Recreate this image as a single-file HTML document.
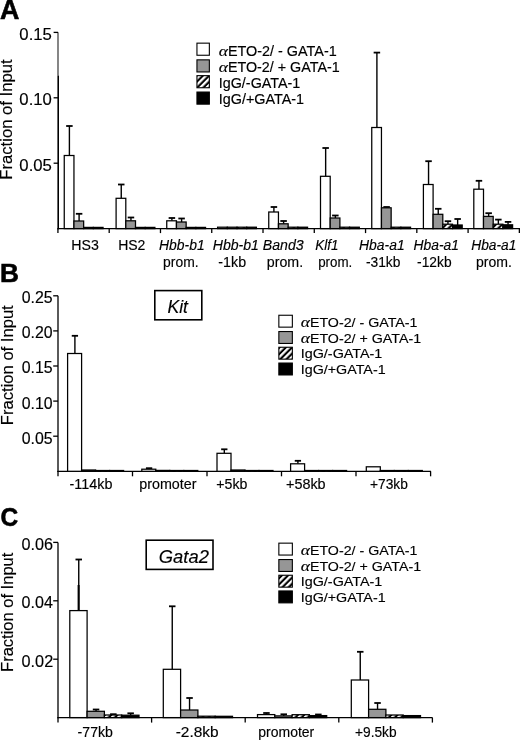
<!DOCTYPE html>
<html><head><meta charset="utf-8"><style>
html,body{margin:0;padding:0;background:#fff;}
body{width:520px;height:740px;overflow:hidden;}
svg{display:block;will-change:transform;}
text{font-family:"Liberation Sans", sans-serif;}
</style></head><body>
<svg width="520" height="740" viewBox="0 0 520 740">
<defs>
<pattern id="hatch" patternUnits="userSpaceOnUse" width="4.4" height="4.4" patternTransform="rotate(45)">
<rect width="4.4" height="4.4" fill="#000"/><rect width="2.3" height="4.4" fill="#fff"/>
</pattern>
</defs>
<rect width="520" height="740" fill="#fff"/>
<text x="-0.07" y="18.70" font-size="27" textLength="19.37" lengthAdjust="spacingAndGlyphs" style="font-family:'Liberation Sans',sans-serif;font-weight:bold;" fill="#000" stroke="#000" stroke-width="0.6">A</text>
<text transform="translate(12.0,0) rotate(-90)" x="-179.66" y="0" font-size="16" textLength="120.18" lengthAdjust="spacingAndGlyphs" style="font-family:'Liberation Sans',sans-serif;" stroke="#000" stroke-width="0.15">Fraction of Input</text>
<line x1="58.00" y1="32.30" x2="58.00" y2="75.60" stroke="#444" stroke-width="1.3"/>
<line x1="58.20" y1="75.60" x2="58.20" y2="229.20" stroke="#000" stroke-width="1.6"/>
<line x1="53.60" y1="32.40" x2="58.00" y2="32.40" stroke="#000" stroke-width="1.3"/>
<text x="19.35" y="39.90" font-size="16.5" textLength="32.56" lengthAdjust="spacingAndGlyphs" style="font-family:'Liberation Sans',sans-serif;" fill="#000" stroke="#000" stroke-width="0.15">0.15</text>
<line x1="53.60" y1="97.80" x2="58.00" y2="97.80" stroke="#000" stroke-width="1.3"/>
<text x="19.35" y="105.30" font-size="16.5" textLength="32.51" lengthAdjust="spacingAndGlyphs" style="font-family:'Liberation Sans',sans-serif;" fill="#000" stroke="#000" stroke-width="0.15">0.10</text>
<line x1="53.60" y1="163.20" x2="58.00" y2="163.20" stroke="#000" stroke-width="1.3"/>
<text x="19.35" y="170.70" font-size="16.5" textLength="32.56" lengthAdjust="spacingAndGlyphs" style="font-family:'Liberation Sans',sans-serif;" fill="#000" stroke="#000" stroke-width="0.15">0.05</text>
<line x1="57.40" y1="228.60" x2="520.00" y2="228.60" stroke="#000" stroke-width="1.3"/>
<line x1="57.93" y1="228.60" x2="57.93" y2="233.10" stroke="#000" stroke-width="1.3"/>
<line x1="109.20" y1="228.60" x2="109.20" y2="233.10" stroke="#000" stroke-width="1.3"/>
<line x1="160.47" y1="228.60" x2="160.47" y2="233.10" stroke="#000" stroke-width="1.3"/>
<line x1="211.74" y1="228.60" x2="211.74" y2="233.10" stroke="#000" stroke-width="1.3"/>
<line x1="263.01" y1="228.60" x2="263.01" y2="233.10" stroke="#000" stroke-width="1.3"/>
<line x1="314.28" y1="228.60" x2="314.28" y2="233.10" stroke="#000" stroke-width="1.3"/>
<line x1="365.55" y1="228.60" x2="365.55" y2="233.10" stroke="#000" stroke-width="1.3"/>
<line x1="416.82" y1="228.60" x2="416.82" y2="233.10" stroke="#000" stroke-width="1.3"/>
<line x1="468.09" y1="228.60" x2="468.09" y2="233.10" stroke="#000" stroke-width="1.3"/>
<line x1="519.36" y1="228.60" x2="519.36" y2="233.10" stroke="#000" stroke-width="1.3"/>
<line x1="69.40" y1="155.50" x2="69.40" y2="126.00" stroke="#000" stroke-width="1.4"/>
<line x1="66.15" y1="126.00" x2="72.65" y2="126.00" stroke="#000" stroke-width="1.8"/>
<rect x="64.25" y="155.50" width="9.70" height="73.10" fill="#fff" stroke="#000" stroke-width="1.25"/>
<line x1="79.10" y1="221.00" x2="79.10" y2="213.80" stroke="#000" stroke-width="1.4"/>
<line x1="75.85" y1="213.80" x2="82.35" y2="213.80" stroke="#000" stroke-width="1.8"/>
<rect x="73.95" y="221.00" width="9.70" height="7.60" fill="#969696" stroke="#000" stroke-width="1.25"/>
<rect x="83.65" y="227.40" width="9.70" height="1.20" fill="url(#hatch)" stroke="#000" stroke-width="1.25"/>
<rect x="93.35" y="227.40" width="9.70" height="1.20" fill="#000" stroke="#000" stroke-width="1.25"/>
<line x1="121.25" y1="198.30" x2="121.25" y2="184.50" stroke="#000" stroke-width="1.4"/>
<line x1="118.00" y1="184.50" x2="124.50" y2="184.50" stroke="#000" stroke-width="1.8"/>
<rect x="116.10" y="198.30" width="9.70" height="30.30" fill="#fff" stroke="#000" stroke-width="1.25"/>
<line x1="130.95" y1="220.80" x2="130.95" y2="217.50" stroke="#000" stroke-width="1.4"/>
<line x1="127.70" y1="217.50" x2="134.20" y2="217.50" stroke="#000" stroke-width="1.8"/>
<rect x="125.80" y="220.80" width="9.70" height="7.80" fill="#969696" stroke="#000" stroke-width="1.25"/>
<rect x="135.50" y="227.40" width="9.70" height="1.20" fill="url(#hatch)" stroke="#000" stroke-width="1.25"/>
<rect x="145.20" y="227.40" width="9.70" height="1.20" fill="#000" stroke="#000" stroke-width="1.25"/>
<line x1="171.90" y1="220.80" x2="171.90" y2="218.00" stroke="#000" stroke-width="1.4"/>
<line x1="168.65" y1="218.00" x2="175.15" y2="218.00" stroke="#000" stroke-width="1.8"/>
<rect x="166.75" y="220.80" width="9.70" height="7.80" fill="#fff" stroke="#000" stroke-width="1.25"/>
<line x1="181.60" y1="222.00" x2="181.60" y2="218.50" stroke="#000" stroke-width="1.4"/>
<line x1="178.35" y1="218.50" x2="184.85" y2="218.50" stroke="#000" stroke-width="1.8"/>
<rect x="176.45" y="222.00" width="9.70" height="6.60" fill="#969696" stroke="#000" stroke-width="1.25"/>
<rect x="186.15" y="227.40" width="9.70" height="1.20" fill="url(#hatch)" stroke="#000" stroke-width="1.25"/>
<rect x="195.85" y="227.40" width="9.70" height="1.20" fill="#000" stroke="#000" stroke-width="1.25"/>
<rect x="217.60" y="227.20" width="9.70" height="1.40" fill="#fff" stroke="#000" stroke-width="1.25"/>
<rect x="227.30" y="227.20" width="9.70" height="1.40" fill="#969696" stroke="#000" stroke-width="1.25"/>
<rect x="237.00" y="227.20" width="9.70" height="1.40" fill="url(#hatch)" stroke="#000" stroke-width="1.25"/>
<rect x="246.70" y="227.20" width="9.70" height="1.40" fill="#000" stroke="#000" stroke-width="1.25"/>
<line x1="273.90" y1="212.00" x2="273.90" y2="207.00" stroke="#000" stroke-width="1.4"/>
<line x1="270.65" y1="207.00" x2="277.15" y2="207.00" stroke="#000" stroke-width="1.8"/>
<rect x="268.75" y="212.00" width="9.70" height="16.60" fill="#fff" stroke="#000" stroke-width="1.25"/>
<line x1="283.60" y1="223.80" x2="283.60" y2="221.00" stroke="#000" stroke-width="1.4"/>
<line x1="280.35" y1="221.00" x2="286.85" y2="221.00" stroke="#000" stroke-width="1.8"/>
<rect x="278.45" y="223.80" width="9.70" height="4.80" fill="#969696" stroke="#000" stroke-width="1.25"/>
<rect x="288.15" y="227.20" width="9.70" height="1.40" fill="url(#hatch)" stroke="#000" stroke-width="1.25"/>
<rect x="297.85" y="227.20" width="9.70" height="1.40" fill="#000" stroke="#000" stroke-width="1.25"/>
<line x1="325.65" y1="176.30" x2="325.65" y2="148.00" stroke="#000" stroke-width="1.4"/>
<line x1="322.40" y1="148.00" x2="328.90" y2="148.00" stroke="#000" stroke-width="1.8"/>
<rect x="320.50" y="176.30" width="9.70" height="52.30" fill="#fff" stroke="#000" stroke-width="1.25"/>
<line x1="335.35" y1="218.00" x2="335.35" y2="215.50" stroke="#000" stroke-width="1.4"/>
<line x1="332.10" y1="215.50" x2="338.60" y2="215.50" stroke="#000" stroke-width="1.8"/>
<rect x="330.20" y="218.00" width="9.70" height="10.60" fill="#969696" stroke="#000" stroke-width="1.25"/>
<rect x="339.90" y="227.20" width="9.70" height="1.40" fill="url(#hatch)" stroke="#000" stroke-width="1.25"/>
<rect x="349.60" y="227.20" width="9.70" height="1.40" fill="#000" stroke="#000" stroke-width="1.25"/>
<line x1="376.90" y1="127.50" x2="376.90" y2="52.60" stroke="#000" stroke-width="1.4"/>
<line x1="373.65" y1="52.60" x2="380.15" y2="52.60" stroke="#000" stroke-width="1.8"/>
<rect x="371.75" y="127.50" width="9.70" height="101.10" fill="#fff" stroke="#000" stroke-width="1.25"/>
<line x1="386.60" y1="207.80" x2="386.60" y2="207.00" stroke="#000" stroke-width="1.4"/>
<line x1="383.35" y1="207.00" x2="389.85" y2="207.00" stroke="#000" stroke-width="1.8"/>
<rect x="381.45" y="207.80" width="9.70" height="20.80" fill="#969696" stroke="#000" stroke-width="1.25"/>
<rect x="391.15" y="227.20" width="9.70" height="1.40" fill="url(#hatch)" stroke="#000" stroke-width="1.25"/>
<rect x="400.85" y="227.20" width="9.70" height="1.40" fill="#000" stroke="#000" stroke-width="1.25"/>
<line x1="428.55" y1="184.50" x2="428.55" y2="161.20" stroke="#000" stroke-width="1.4"/>
<line x1="425.30" y1="161.20" x2="431.80" y2="161.20" stroke="#000" stroke-width="1.8"/>
<rect x="423.40" y="184.50" width="9.70" height="44.10" fill="#fff" stroke="#000" stroke-width="1.25"/>
<line x1="438.25" y1="214.30" x2="438.25" y2="208.80" stroke="#000" stroke-width="1.4"/>
<line x1="435.00" y1="208.80" x2="441.50" y2="208.80" stroke="#000" stroke-width="1.8"/>
<rect x="433.10" y="214.30" width="9.70" height="14.30" fill="#969696" stroke="#000" stroke-width="1.25"/>
<line x1="447.95" y1="224.20" x2="447.95" y2="221.20" stroke="#000" stroke-width="1.4"/>
<line x1="444.70" y1="221.20" x2="451.20" y2="221.20" stroke="#000" stroke-width="1.8"/>
<rect x="442.80" y="224.20" width="9.70" height="4.40" fill="url(#hatch)" stroke="#000" stroke-width="1.25"/>
<line x1="457.65" y1="225.00" x2="457.65" y2="219.00" stroke="#000" stroke-width="1.4"/>
<line x1="454.40" y1="219.00" x2="460.90" y2="219.00" stroke="#000" stroke-width="1.8"/>
<rect x="452.50" y="225.00" width="9.70" height="3.60" fill="#000" stroke="#000" stroke-width="1.25"/>
<line x1="478.95" y1="189.20" x2="478.95" y2="180.80" stroke="#000" stroke-width="1.4"/>
<line x1="475.70" y1="180.80" x2="482.20" y2="180.80" stroke="#000" stroke-width="1.8"/>
<rect x="473.80" y="189.20" width="9.70" height="39.40" fill="#fff" stroke="#000" stroke-width="1.25"/>
<line x1="488.65" y1="216.40" x2="488.65" y2="213.20" stroke="#000" stroke-width="1.4"/>
<line x1="485.40" y1="213.20" x2="491.90" y2="213.20" stroke="#000" stroke-width="1.8"/>
<rect x="483.50" y="216.40" width="9.70" height="12.20" fill="#969696" stroke="#000" stroke-width="1.25"/>
<line x1="498.35" y1="224.20" x2="498.35" y2="219.60" stroke="#000" stroke-width="1.4"/>
<line x1="495.10" y1="219.60" x2="501.60" y2="219.60" stroke="#000" stroke-width="1.8"/>
<rect x="493.20" y="224.20" width="9.70" height="4.40" fill="url(#hatch)" stroke="#000" stroke-width="1.25"/>
<line x1="508.05" y1="224.80" x2="508.05" y2="221.90" stroke="#000" stroke-width="1.4"/>
<line x1="504.80" y1="221.90" x2="511.30" y2="221.90" stroke="#000" stroke-width="1.8"/>
<rect x="502.90" y="224.80" width="9.70" height="3.80" fill="#000" stroke="#000" stroke-width="1.25"/>
<text x="71.24" y="249.50" font-size="14.2" textLength="27.59" lengthAdjust="spacingAndGlyphs" style="font-family:'Liberation Sans',sans-serif;" fill="#000" stroke="#000" stroke-width="0.15">HS3</text>
<text x="118.15" y="249.50" font-size="14.2" textLength="27.25" lengthAdjust="spacingAndGlyphs" style="font-family:'Liberation Sans',sans-serif;" fill="#000" stroke="#000" stroke-width="0.15">HS2</text>
<text x="159.07" y="249.50" font-size="14.2" textLength="45.60" lengthAdjust="spacingAndGlyphs" style="font-family:'Liberation Sans',sans-serif;font-style:italic;" fill="#000" stroke="#000" stroke-width="0.15">Hbb-b1</text>
<text x="163.11" y="266.90" font-size="14.2" textLength="35.45" lengthAdjust="spacingAndGlyphs" style="font-family:'Liberation Sans',sans-serif;" fill="#000" stroke="#000" stroke-width="0.15">prom.</text>
<text x="212.76" y="249.50" font-size="14.2" textLength="46.22" lengthAdjust="spacingAndGlyphs" style="font-family:'Liberation Sans',sans-serif;font-style:italic;" fill="#000" stroke="#000" stroke-width="0.15">Hbb-b1</text>
<text x="218.37" y="266.90" font-size="14.2" textLength="27.73" lengthAdjust="spacingAndGlyphs" style="font-family:'Liberation Sans',sans-serif;" fill="#000" stroke="#000" stroke-width="0.15">-1kb</text>
<text x="262.76" y="249.50" font-size="14.2" textLength="40.87" lengthAdjust="spacingAndGlyphs" style="font-family:'Liberation Sans',sans-serif;font-style:italic;" fill="#000" stroke="#000" stroke-width="0.15">Band3</text>
<text x="266.79" y="266.90" font-size="14.2" textLength="36.30" lengthAdjust="spacingAndGlyphs" style="font-family:'Liberation Sans',sans-serif;" fill="#000" stroke="#000" stroke-width="0.15">prom.</text>
<text x="315.28" y="249.50" font-size="14.2" textLength="23.15" lengthAdjust="spacingAndGlyphs" style="font-family:'Liberation Sans',sans-serif;font-style:italic;" fill="#000" stroke="#000" stroke-width="0.15">Klf1</text>
<text x="318.15" y="266.90" font-size="14.2" textLength="34.07" lengthAdjust="spacingAndGlyphs" style="font-family:'Liberation Sans',sans-serif;" fill="#000" stroke="#000" stroke-width="0.15">prom.</text>
<text x="359.07" y="249.50" font-size="14.2" textLength="45.60" lengthAdjust="spacingAndGlyphs" style="font-family:'Liberation Sans',sans-serif;font-style:italic;" fill="#000" stroke="#000" stroke-width="0.15">Hba-a1</text>
<text x="365.89" y="266.90" font-size="14.2" textLength="34.49" lengthAdjust="spacingAndGlyphs" style="font-family:'Liberation Sans',sans-serif;" fill="#000" stroke="#000" stroke-width="0.15">-31kb</text>
<text x="413.57" y="249.50" font-size="14.2" textLength="45.39" lengthAdjust="spacingAndGlyphs" style="font-family:'Liberation Sans',sans-serif;font-style:italic;" fill="#000" stroke="#000" stroke-width="0.15">Hba-a1</text>
<text x="417.09" y="266.90" font-size="14.2" textLength="34.49" lengthAdjust="spacingAndGlyphs" style="font-family:'Liberation Sans',sans-serif;" fill="#000" stroke="#000" stroke-width="0.15">-12kb</text>
<text x="471.27" y="249.50" font-size="14.2" textLength="45.08" lengthAdjust="spacingAndGlyphs" style="font-family:'Liberation Sans',sans-serif;font-style:italic;" fill="#000" stroke="#000" stroke-width="0.15">Hba-a1</text>
<text x="476.00" y="266.90" font-size="14.2" textLength="35.88" lengthAdjust="spacingAndGlyphs" style="font-family:'Liberation Sans',sans-serif;" fill="#000" stroke="#000" stroke-width="0.15">prom.</text>
<rect x="196.95" y="43.15" width="12.40" height="12.10" fill="#fff" stroke="#000" stroke-width="1.1"/>
<text x="218.67" y="55.90" font-size="15.6" textLength="9.23" lengthAdjust="spacingAndGlyphs" style="font-family:'Liberation Serif',serif;font-style:italic;" fill="#000" stroke="#000" stroke-width="0.15">α</text>
<text x="227.92" y="55.90" font-size="13.8" textLength="108.78" lengthAdjust="spacingAndGlyphs" style="font-family:'Liberation Sans',sans-serif;" fill="#000" stroke="#000" stroke-width="0.15">ETO-2/ - GATA-1</text>
<rect x="196.95" y="59.85" width="12.40" height="12.10" fill="#969696" stroke="#000" stroke-width="1.1"/>
<text x="218.67" y="72.10" font-size="15.6" textLength="9.23" lengthAdjust="spacingAndGlyphs" style="font-family:'Liberation Serif',serif;font-style:italic;" fill="#000" stroke="#000" stroke-width="0.15">α</text>
<text x="227.93" y="72.10" font-size="13.8" textLength="111.77" lengthAdjust="spacingAndGlyphs" style="font-family:'Liberation Sans',sans-serif;" fill="#000" stroke="#000" stroke-width="0.15">ETO-2/ + GATA-1</text>
<rect x="196.95" y="75.65" width="12.40" height="12.10" fill="url(#hatch)" stroke="#000" stroke-width="1.1"/>
<text x="218.78" y="87.60" font-size="13.8" textLength="81.52" lengthAdjust="spacingAndGlyphs" style="font-family:'Liberation Sans',sans-serif;" fill="#000" stroke="#000" stroke-width="0.15">IgG/-GATA-1</text>
<rect x="196.95" y="92.05" width="12.40" height="12.10" fill="#000" stroke="#000" stroke-width="1.1"/>
<text x="218.78" y="103.90" font-size="13.8" textLength="85.33" lengthAdjust="spacingAndGlyphs" style="font-family:'Liberation Sans',sans-serif;" fill="#000" stroke="#000" stroke-width="0.15">IgG/+GATA-1</text>
<text x="0.04" y="282.20" font-size="26.5" textLength="18.94" lengthAdjust="spacingAndGlyphs" style="font-family:'Liberation Sans',sans-serif;font-weight:bold;" fill="#000" stroke="#000" stroke-width="0.6">B</text>
<text transform="translate(12.9,0) rotate(-90)" x="-425.16" y="0" font-size="16" textLength="119.88" lengthAdjust="spacingAndGlyphs" style="font-family:'Liberation Sans',sans-serif;" stroke="#000" stroke-width="0.15">Fraction of Input</text>
<line x1="58.00" y1="295.80" x2="58.00" y2="471.90" stroke="#000" stroke-width="1.3"/>
<line x1="53.20" y1="295.80" x2="58.00" y2="295.80" stroke="#000" stroke-width="1.3"/>
<text x="21.78" y="303.20" font-size="16" textLength="30.89" lengthAdjust="spacingAndGlyphs" style="font-family:'Liberation Sans',sans-serif;" fill="#000" stroke="#000" stroke-width="0.15">0.25</text>
<line x1="53.20" y1="330.90" x2="58.00" y2="330.90" stroke="#000" stroke-width="1.3"/>
<text x="21.78" y="338.30" font-size="16" textLength="30.84" lengthAdjust="spacingAndGlyphs" style="font-family:'Liberation Sans',sans-serif;" fill="#000" stroke="#000" stroke-width="0.15">0.20</text>
<line x1="53.20" y1="366.00" x2="58.00" y2="366.00" stroke="#000" stroke-width="1.3"/>
<text x="21.78" y="373.40" font-size="16" textLength="30.89" lengthAdjust="spacingAndGlyphs" style="font-family:'Liberation Sans',sans-serif;" fill="#000" stroke="#000" stroke-width="0.15">0.15</text>
<line x1="53.20" y1="401.10" x2="58.00" y2="401.10" stroke="#000" stroke-width="1.3"/>
<text x="21.78" y="408.50" font-size="16" textLength="30.84" lengthAdjust="spacingAndGlyphs" style="font-family:'Liberation Sans',sans-serif;" fill="#000" stroke="#000" stroke-width="0.15">0.10</text>
<line x1="53.20" y1="436.20" x2="58.00" y2="436.20" stroke="#000" stroke-width="1.3"/>
<text x="21.78" y="443.60" font-size="16" textLength="30.89" lengthAdjust="spacingAndGlyphs" style="font-family:'Liberation Sans',sans-serif;" fill="#000" stroke="#000" stroke-width="0.15">0.05</text>
<line x1="57.40" y1="471.30" x2="431.00" y2="471.30" stroke="#000" stroke-width="1.3"/>
<line x1="58.00" y1="471.30" x2="58.00" y2="476.30" stroke="#000" stroke-width="1.3"/>
<line x1="132.50" y1="471.30" x2="132.50" y2="476.30" stroke="#000" stroke-width="1.3"/>
<line x1="207.00" y1="471.30" x2="207.00" y2="476.30" stroke="#000" stroke-width="1.3"/>
<line x1="281.50" y1="471.30" x2="281.50" y2="476.30" stroke="#000" stroke-width="1.3"/>
<line x1="356.00" y1="471.30" x2="356.00" y2="476.30" stroke="#000" stroke-width="1.3"/>
<line x1="430.60" y1="471.30" x2="430.60" y2="476.30" stroke="#000" stroke-width="1.3"/>
<line x1="74.90" y1="353.50" x2="74.90" y2="335.80" stroke="#000" stroke-width="1.4"/>
<line x1="71.75" y1="335.80" x2="78.05" y2="335.80" stroke="#000" stroke-width="1.8"/>
<rect x="67.60" y="353.50" width="14.00" height="117.80" fill="#fff" stroke="#000" stroke-width="1.25"/>
<rect x="81.60" y="470.00" width="14.00" height="1.30" fill="#969696" stroke="#000" stroke-width="1.25"/>
<rect x="95.60" y="470.50" width="14.00" height="0.80" fill="url(#hatch)" stroke="#000" stroke-width="1.25"/>
<rect x="109.60" y="470.50" width="14.00" height="0.80" fill="#000" stroke="#000" stroke-width="1.25"/>
<line x1="149.10" y1="469.20" x2="149.10" y2="468.20" stroke="#000" stroke-width="1.4"/>
<line x1="145.95" y1="468.20" x2="152.25" y2="468.20" stroke="#000" stroke-width="1.8"/>
<rect x="141.80" y="469.20" width="14.00" height="2.10" fill="#fff" stroke="#000" stroke-width="1.25"/>
<rect x="155.80" y="470.40" width="14.00" height="0.90" fill="#969696" stroke="#000" stroke-width="1.25"/>
<rect x="169.80" y="470.50" width="14.00" height="0.80" fill="url(#hatch)" stroke="#000" stroke-width="1.25"/>
<rect x="183.80" y="470.50" width="14.00" height="0.80" fill="#000" stroke="#000" stroke-width="1.25"/>
<line x1="224.30" y1="453.30" x2="224.30" y2="449.30" stroke="#000" stroke-width="1.4"/>
<line x1="221.15" y1="449.30" x2="227.45" y2="449.30" stroke="#000" stroke-width="1.8"/>
<rect x="217.00" y="453.30" width="14.00" height="18.00" fill="#fff" stroke="#000" stroke-width="1.25"/>
<rect x="231.00" y="470.00" width="14.00" height="1.30" fill="#969696" stroke="#000" stroke-width="1.25"/>
<rect x="245.00" y="470.50" width="14.00" height="0.80" fill="url(#hatch)" stroke="#000" stroke-width="1.25"/>
<rect x="259.00" y="470.50" width="14.00" height="0.80" fill="#000" stroke="#000" stroke-width="1.25"/>
<line x1="297.90" y1="463.80" x2="297.90" y2="460.80" stroke="#000" stroke-width="1.4"/>
<line x1="294.75" y1="460.80" x2="301.05" y2="460.80" stroke="#000" stroke-width="1.8"/>
<rect x="290.60" y="463.80" width="14.00" height="7.50" fill="#fff" stroke="#000" stroke-width="1.25"/>
<rect x="304.60" y="470.50" width="14.00" height="0.80" fill="#969696" stroke="#000" stroke-width="1.25"/>
<rect x="318.60" y="470.50" width="14.00" height="0.80" fill="url(#hatch)" stroke="#000" stroke-width="1.25"/>
<rect x="332.60" y="470.50" width="14.00" height="0.80" fill="#000" stroke="#000" stroke-width="1.25"/>
<rect x="366.30" y="466.80" width="14.00" height="4.50" fill="#fff" stroke="#000" stroke-width="1.25"/>
<rect x="380.30" y="470.50" width="14.00" height="0.80" fill="#969696" stroke="#000" stroke-width="1.25"/>
<rect x="394.30" y="470.50" width="14.00" height="0.80" fill="url(#hatch)" stroke="#000" stroke-width="1.25"/>
<rect x="408.30" y="470.50" width="14.00" height="0.80" fill="#000" stroke="#000" stroke-width="1.25"/>
<text x="69.57" y="489.10" font-size="14" textLength="42.84" lengthAdjust="spacingAndGlyphs" style="font-family:'Liberation Sans',sans-serif;" fill="#000" stroke="#000" stroke-width="0.15">-114kb</text>
<text x="139.28" y="489.10" font-size="14" textLength="57.25" lengthAdjust="spacingAndGlyphs" style="font-family:'Liberation Sans',sans-serif;" fill="#000" stroke="#000" stroke-width="0.15">promoter</text>
<text x="216.31" y="489.10" font-size="14" textLength="31.09" lengthAdjust="spacingAndGlyphs" style="font-family:'Liberation Sans',sans-serif;" fill="#000" stroke="#000" stroke-width="0.15">+5kb</text>
<text x="285.99" y="489.10" font-size="14" textLength="39.62" lengthAdjust="spacingAndGlyphs" style="font-family:'Liberation Sans',sans-serif;" fill="#000" stroke="#000" stroke-width="0.15">+58kb</text>
<text x="370.03" y="489.10" font-size="14" textLength="37.86" lengthAdjust="spacingAndGlyphs" style="font-family:'Liberation Sans',sans-serif;" fill="#000" stroke="#000" stroke-width="0.15">+73kb</text>
<rect x="154.80" y="290.60" width="47.00" height="29.20" fill="none" stroke="#000" stroke-width="1.6"/>
<text x="167.45" y="313.30" font-size="18.5" textLength="20.53" lengthAdjust="spacingAndGlyphs" style="font-family:'Liberation Sans',sans-serif;font-style:italic;" fill="#000" stroke="#000" stroke-width="0.15">Kit</text>
<rect x="278.85" y="315.25" width="13.50" height="11.90" fill="#fff" stroke="#000" stroke-width="1.1"/>
<text x="300.67" y="327.00" font-size="15.6" textLength="9.23" lengthAdjust="spacingAndGlyphs" style="font-family:'Liberation Serif',serif;font-style:italic;" fill="#000" stroke="#000" stroke-width="0.15">α</text>
<text x="309.93" y="327.00" font-size="13.6" textLength="107.56" lengthAdjust="spacingAndGlyphs" style="font-family:'Liberation Sans',sans-serif;" fill="#000" stroke="#000" stroke-width="0.15">ETO-2/ - GATA-1</text>
<rect x="278.85" y="331.55" width="13.50" height="11.90" fill="#969696" stroke="#000" stroke-width="1.1"/>
<text x="300.67" y="342.80" font-size="15.6" textLength="9.23" lengthAdjust="spacingAndGlyphs" style="font-family:'Liberation Serif',serif;font-style:italic;" fill="#000" stroke="#000" stroke-width="0.15">α</text>
<text x="309.93" y="342.80" font-size="13.6" textLength="111.16" lengthAdjust="spacingAndGlyphs" style="font-family:'Liberation Sans',sans-serif;" fill="#000" stroke="#000" stroke-width="0.15">ETO-2/ + GATA-1</text>
<rect x="278.85" y="347.25" width="13.50" height="11.90" fill="url(#hatch)" stroke="#000" stroke-width="1.1"/>
<text x="300.78" y="358.00" font-size="13.6" textLength="81.52" lengthAdjust="spacingAndGlyphs" style="font-family:'Liberation Sans',sans-serif;" fill="#000" stroke="#000" stroke-width="0.15">IgG/-GATA-1</text>
<rect x="278.85" y="363.05" width="13.50" height="11.90" fill="#000" stroke="#000" stroke-width="1.1"/>
<text x="300.79" y="373.80" font-size="13.6" textLength="84.81" lengthAdjust="spacingAndGlyphs" style="font-family:'Liberation Sans',sans-serif;" fill="#000" stroke="#000" stroke-width="0.15">IgG/+GATA-1</text>
<text x="0.40" y="526.20" font-size="26.5" textLength="17.67" lengthAdjust="spacingAndGlyphs" style="font-family:'Liberation Sans',sans-serif;font-weight:bold;" fill="#000" stroke="#000" stroke-width="0.6">C</text>
<text transform="translate(12.9,0) rotate(-90)" x="-671.95" y="0" font-size="16" textLength="119.27" lengthAdjust="spacingAndGlyphs" style="font-family:'Liberation Sans',sans-serif;" stroke="#000" stroke-width="0.15">Fraction of Input</text>
<line x1="58.00" y1="542.50" x2="58.00" y2="718.20" stroke="#000" stroke-width="1.3"/>
<line x1="53.20" y1="542.40" x2="58.00" y2="542.40" stroke="#000" stroke-width="1.3"/>
<text x="21.57" y="549.90" font-size="16.3" textLength="31.55" lengthAdjust="spacingAndGlyphs" style="font-family:'Liberation Sans',sans-serif;" fill="#000" stroke="#000" stroke-width="0.15">0.06</text>
<line x1="53.20" y1="600.80" x2="58.00" y2="600.80" stroke="#000" stroke-width="1.3"/>
<text x="21.57" y="608.30" font-size="16.3" textLength="31.30" lengthAdjust="spacingAndGlyphs" style="font-family:'Liberation Sans',sans-serif;" fill="#000" stroke="#000" stroke-width="0.15">0.04</text>
<line x1="53.20" y1="659.20" x2="58.00" y2="659.20" stroke="#000" stroke-width="1.3"/>
<text x="21.57" y="666.70" font-size="16.3" textLength="31.65" lengthAdjust="spacingAndGlyphs" style="font-family:'Liberation Sans',sans-serif;" fill="#000" stroke="#000" stroke-width="0.15">0.02</text>
<line x1="57.40" y1="717.60" x2="432.50" y2="717.60" stroke="#000" stroke-width="1.3"/>
<line x1="58.00" y1="717.60" x2="58.00" y2="722.60" stroke="#000" stroke-width="1.3"/>
<line x1="151.60" y1="717.60" x2="151.60" y2="722.60" stroke="#000" stroke-width="1.3"/>
<line x1="245.20" y1="717.60" x2="245.20" y2="722.60" stroke="#000" stroke-width="1.3"/>
<line x1="338.80" y1="717.60" x2="338.80" y2="722.60" stroke="#000" stroke-width="1.3"/>
<line x1="432.40" y1="717.60" x2="432.40" y2="722.60" stroke="#000" stroke-width="1.3"/>
<line x1="78.75" y1="610.60" x2="78.75" y2="559.50" stroke="#000" stroke-width="1.4"/>
<line x1="75.50" y1="559.50" x2="82.00" y2="559.50" stroke="#000" stroke-width="1.8"/>
<rect x="69.80" y="610.60" width="17.30" height="107.00" fill="#fff" stroke="#000" stroke-width="1.25"/>
<line x1="96.05" y1="711.30" x2="96.05" y2="709.50" stroke="#000" stroke-width="1.4"/>
<line x1="92.80" y1="709.50" x2="99.30" y2="709.50" stroke="#000" stroke-width="1.8"/>
<rect x="87.10" y="711.30" width="17.30" height="6.30" fill="#969696" stroke="#000" stroke-width="1.25"/>
<line x1="113.35" y1="715.00" x2="113.35" y2="714.20" stroke="#000" stroke-width="1.4"/>
<line x1="110.10" y1="714.20" x2="116.60" y2="714.20" stroke="#000" stroke-width="1.8"/>
<rect x="104.40" y="715.00" width="17.30" height="2.60" fill="url(#hatch)" stroke="#000" stroke-width="1.25"/>
<line x1="130.65" y1="715.20" x2="130.65" y2="713.30" stroke="#000" stroke-width="1.4"/>
<line x1="127.40" y1="713.30" x2="133.90" y2="713.30" stroke="#000" stroke-width="1.8"/>
<rect x="121.70" y="715.20" width="17.30" height="2.40" fill="#000" stroke="#000" stroke-width="1.25"/>
<line x1="172.25" y1="669.30" x2="172.25" y2="606.30" stroke="#000" stroke-width="1.4"/>
<line x1="169.00" y1="606.30" x2="175.50" y2="606.30" stroke="#000" stroke-width="1.8"/>
<rect x="163.30" y="669.30" width="17.30" height="48.30" fill="#fff" stroke="#000" stroke-width="1.25"/>
<line x1="189.55" y1="710.00" x2="189.55" y2="698.00" stroke="#000" stroke-width="1.4"/>
<line x1="186.30" y1="698.00" x2="192.80" y2="698.00" stroke="#000" stroke-width="1.8"/>
<rect x="180.60" y="710.00" width="17.30" height="7.60" fill="#969696" stroke="#000" stroke-width="1.25"/>
<rect x="197.90" y="716.20" width="17.30" height="1.40" fill="url(#hatch)" stroke="#000" stroke-width="1.25"/>
<rect x="215.20" y="716.30" width="17.30" height="1.30" fill="#000" stroke="#000" stroke-width="1.25"/>
<line x1="266.45" y1="714.60" x2="266.45" y2="713.00" stroke="#000" stroke-width="1.4"/>
<line x1="263.20" y1="713.00" x2="269.70" y2="713.00" stroke="#000" stroke-width="1.8"/>
<rect x="257.50" y="714.60" width="17.30" height="3.00" fill="#fff" stroke="#000" stroke-width="1.25"/>
<line x1="283.75" y1="715.90" x2="283.75" y2="714.30" stroke="#000" stroke-width="1.4"/>
<line x1="280.50" y1="714.30" x2="287.00" y2="714.30" stroke="#000" stroke-width="1.8"/>
<rect x="274.80" y="715.90" width="17.30" height="1.70" fill="#969696" stroke="#000" stroke-width="1.25"/>
<rect x="292.10" y="714.70" width="17.30" height="2.90" fill="url(#hatch)" stroke="#000" stroke-width="1.25"/>
<line x1="318.35" y1="715.60" x2="318.35" y2="714.50" stroke="#000" stroke-width="1.4"/>
<line x1="315.10" y1="714.50" x2="321.60" y2="714.50" stroke="#000" stroke-width="1.8"/>
<rect x="309.40" y="715.60" width="17.30" height="2.00" fill="#000" stroke="#000" stroke-width="1.25"/>
<line x1="360.25" y1="680.00" x2="360.25" y2="651.80" stroke="#000" stroke-width="1.4"/>
<line x1="357.00" y1="651.80" x2="363.50" y2="651.80" stroke="#000" stroke-width="1.8"/>
<rect x="351.30" y="680.00" width="17.30" height="37.60" fill="#fff" stroke="#000" stroke-width="1.25"/>
<line x1="377.55" y1="709.30" x2="377.55" y2="703.00" stroke="#000" stroke-width="1.4"/>
<line x1="374.30" y1="703.00" x2="380.80" y2="703.00" stroke="#000" stroke-width="1.8"/>
<rect x="368.60" y="709.30" width="17.30" height="8.30" fill="#969696" stroke="#000" stroke-width="1.25"/>
<rect x="385.90" y="715.00" width="17.30" height="2.60" fill="url(#hatch)" stroke="#000" stroke-width="1.25"/>
<rect x="403.20" y="715.60" width="17.30" height="2.00" fill="#000" stroke="#000" stroke-width="1.25"/>
<line x1="78.60" y1="585.00" x2="78.60" y2="610.60" stroke="#000" stroke-width="2.0"/>
<text x="77.58" y="737.00" font-size="14" textLength="35.32" lengthAdjust="spacingAndGlyphs" style="font-family:'Liberation Sans',sans-serif;" fill="#000" stroke="#000" stroke-width="0.15">-77kb</text>
<text x="175.72" y="737.00" font-size="14" textLength="42.93" lengthAdjust="spacingAndGlyphs" style="font-family:'Liberation Sans',sans-serif;" fill="#000" stroke="#000" stroke-width="0.15">-2.8kb</text>
<text x="258.31" y="737.00" font-size="14" textLength="55.93" lengthAdjust="spacingAndGlyphs" style="font-family:'Liberation Sans',sans-serif;" fill="#000" stroke="#000" stroke-width="0.15">promoter</text>
<text x="355.03" y="737.00" font-size="14" textLength="41.55" lengthAdjust="spacingAndGlyphs" style="font-family:'Liberation Sans',sans-serif;" fill="#000" stroke="#000" stroke-width="0.15">+9.5kb</text>
<rect x="146.20" y="540.20" width="66.80" height="29.20" fill="none" stroke="#000" stroke-width="1.6"/>
<text x="158.80" y="562.50" font-size="18" textLength="50.06" lengthAdjust="spacingAndGlyphs" style="font-family:'Liberation Sans',sans-serif;font-style:italic;" fill="#000" stroke="#000" stroke-width="0.15">Gata2</text>
<rect x="278.85" y="543.15" width="13.50" height="11.90" fill="#fff" stroke="#000" stroke-width="1.1"/>
<text x="300.67" y="554.60" font-size="15.6" textLength="9.23" lengthAdjust="spacingAndGlyphs" style="font-family:'Liberation Serif',serif;font-style:italic;" fill="#000" stroke="#000" stroke-width="0.15">α</text>
<text x="309.93" y="554.60" font-size="13.6" textLength="107.56" lengthAdjust="spacingAndGlyphs" style="font-family:'Liberation Sans',sans-serif;" fill="#000" stroke="#000" stroke-width="0.15">ETO-2/ - GATA-1</text>
<rect x="278.85" y="559.55" width="13.50" height="11.90" fill="#969696" stroke="#000" stroke-width="1.1"/>
<text x="300.67" y="571.20" font-size="15.6" textLength="9.23" lengthAdjust="spacingAndGlyphs" style="font-family:'Liberation Serif',serif;font-style:italic;" fill="#000" stroke="#000" stroke-width="0.15">α</text>
<text x="309.93" y="571.20" font-size="13.6" textLength="111.16" lengthAdjust="spacingAndGlyphs" style="font-family:'Liberation Sans',sans-serif;" fill="#000" stroke="#000" stroke-width="0.15">ETO-2/ + GATA-1</text>
<rect x="278.85" y="575.25" width="13.50" height="11.90" fill="url(#hatch)" stroke="#000" stroke-width="1.1"/>
<text x="300.78" y="586.20" font-size="13.6" textLength="81.52" lengthAdjust="spacingAndGlyphs" style="font-family:'Liberation Sans',sans-serif;" fill="#000" stroke="#000" stroke-width="0.15">IgG/-GATA-1</text>
<rect x="278.85" y="590.95" width="13.50" height="11.90" fill="#000" stroke="#000" stroke-width="1.1"/>
<text x="300.79" y="601.80" font-size="13.6" textLength="84.81" lengthAdjust="spacingAndGlyphs" style="font-family:'Liberation Sans',sans-serif;" fill="#000" stroke="#000" stroke-width="0.15">IgG/+GATA-1</text>
</svg>
</body></html>
